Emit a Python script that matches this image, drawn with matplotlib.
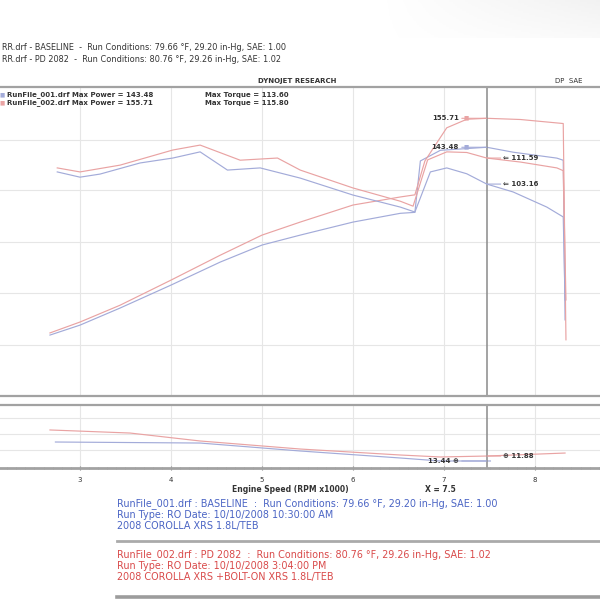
import matplotlib
matplotlib.use("Agg")
import matplotlib.pyplot as plt
import numpy as np
from matplotlib.lines import Line2D

# ---------------- data ----------------
rpm_base_power = [2.67, 3.00, 3.44, 4.00, 4.54, 5.00, 5.42, 6.00, 6.52, 6.68, 6.74, 6.96, 7.47, 7.76, 8.24, 8.31, 8.33]
hp_base = [64.2, 68.4, 75.6, 85.3, 95.0, 102.2, 106.4, 111.9, 115.6, 116.0, 137.7, 142.2, 143.48, 141.4, 138.9, 138.0, 70.6]

rpm_mod_power = [2.67, 3.00, 3.44, 4.00, 4.54, 5.00, 5.42, 6.00, 6.52, 6.68, 6.79, 7.03, 7.25, 7.47, 7.84, 8.31, 8.34]
hp_mod = [65.1, 69.7, 76.8, 87.4, 97.9, 106.4, 111.9, 119.1, 122.5, 123.4, 137.7, 151.7, 155.3, 155.71, 155.2, 153.5, 62.2]

rpm_base_torque = [2.75, 3.00, 3.22, 3.66, 4.02, 4.32, 4.62, 4.98, 5.42, 6.00, 6.52, 6.68, 6.85, 7.03, 7.25, 7.47, 7.76, 8.13, 8.31, 8.33]
tq_base = [107.1, 105.4, 106.4, 110.0, 111.6, 113.6, 107.7, 108.4, 105.1, 99.6, 95.7, 94.1, 107.1, 108.4, 106.5, 103.16, 100.6, 95.7, 92.5, 65.6]

rpm_mod_torque = [2.75, 3.00, 3.44, 4.02, 4.32, 4.76, 5.17, 5.42, 6.00, 6.52, 6.66, 6.82, 7.03, 7.25, 7.47, 7.84, 8.24, 8.31, 8.34]
tq_mod = [108.4, 107.1, 109.3, 114.2, 115.8, 110.9, 111.6, 107.7, 101.9, 97.6, 96.0, 111.0, 113.6, 113.4, 111.59, 110.3, 108.4, 107.5, 65.6]

rpm_afr_mod = [2.67, 3.55, 4.32, 5.42, 6.52, 6.96, 7.47, 8.33]
afr_mod = [14.83, 14.44, 13.43, 12.41, 11.65, 11.40, 11.52, 11.90]
rpm_afr_base = [2.73, 4.32, 5.42, 6.52, 6.96, 7.47, 7.51]
afr_base = [13.30, 13.17, 12.16, 11.27, 10.89, 10.89, 10.89]

cursor_rpm = 7.47
cursor_labels = {"hp_mod": 155.71, "hp_base": 143.48, "tq_mod": 111.59, "tq_base": 103.16,
                 "afr_base": 13.44, "afr_mod": 11.88}

rpm_ticks = [3, 4, 5, 6, 7, 8]

header_lines = ["RR.drf - BASELINE  -  Run Conditions: 79.66 \u00b0F, 29.20 in-Hg, SAE: 1.00",
                "RR.drf - PD 2082  -  Run Conditions: 80.76 \u00b0F, 29.26 in-Hg, SAE: 1.02"]
blue_lines = ["RunFile_001.drf : BASELINE  :  Run Conditions: 79.66 \u00b0F, 29.20 in-Hg, SAE: 1.00",
              "Run Type: RO Date: 10/10/2008 10:30:00 AM",
              "2008 COROLLA XRS 1.8L/TEB"]
red_lines = ["RunFile_002.drf : PD 2082  :  Run Conditions: 80.76 \u00b0F, 29.26 in-Hg, SAE: 1.02",
             "Run Type: RO Date: 10/10/2008 3:04:00 PM",
             "2008 COROLLA XRS +BOLT-ON XRS 1.8L/TEB"]

# ---------------- style ----------------
C_BASE = "#a3abd9"
C_MOD = "#e9a3a3"
GRID = "#e6e6e6"
BORDER = "#a2a2a2"
FS = 5

fig = plt.figure(figsize=(6, 6), dpi=100)
fig.patch.set_facecolor("white")


def fy(y):
    return 1 - y / 600.0


def fx(x):
    return x / 600.0


X0, X1 = 2.121, 8.714

# faint grey shading at the top right corner (scan artefact)
axg = fig.add_axes([fx(380), fy(38), fx(220), 38 / 600.0])
grad = np.linspace(0, 1, 200)[None, :] * np.linspace(1, 0.4, 20)[:, None]
axg.imshow(grad, cmap="Greys", vmin=0, vmax=9, aspect="auto")
axg.axis("off")

# ---------------- main axes ----------------
ax = fig.add_axes([0, fy(395), 1, (395 - 88) / 600.0])
ax.set_xlim(X0, X1)
ax.set_ylim(38.9, 168.5)
axt = ax.twinx()
axt.set_ylim(34.8, 134.3)
for a in (ax, axt):
    for s in a.spines.values():
        s.set_visible(False)
    a.tick_params(length=0, labelbottom=False, labelleft=False, labelright=False)
axt.set_yticks([])
ax.set_xticks(rpm_ticks)
ax.set_yticks([60.0, 82.0, 103.6, 125.5, 146.6])
ax.grid(True, color=GRID, lw=0.8)
ax.set_axisbelow(True)

ax.plot(rpm_base_power, hp_base, color=C_BASE, lw=0.85)
ax.plot(rpm_mod_power, hp_mod, color=C_MOD, lw=0.85)
axt.plot(rpm_base_torque, tq_base, color=C_BASE, lw=0.85)
axt.plot(rpm_mod_torque, tq_mod, color=C_MOD, lw=0.85)
ax.axvline(cursor_rpm, color="#8a8a8a", lw=1.1)

# cursor value labels
for key, color, a in [("hp_mod", C_MOD, ax), ("hp_base", C_BASE, ax)]:
    v = cursor_labels[key]
    a.annotate(f"{v:.2f}", xy=(cursor_rpm, v), xytext=(-20, 0), textcoords="offset points",
               ha="right", va="center", fontsize=FS, weight="bold", color="#333333",
               arrowprops=dict(arrowstyle="-", color=color, lw=0.8, shrinkA=0, shrinkB=0))
    a.annotate("\u25a0", xy=(cursor_rpm, v), xytext=(-15, 0), textcoords="offset points",
               ha="center", va="center", fontsize=4, color=color)
for key, color in [("tq_mod", C_MOD), ("tq_base", C_BASE)]:
    v = cursor_labels[key]
    axt.annotate(f"\u21d0 {v:.2f}", xy=(cursor_rpm, v), xytext=(12, 0), textcoords="offset points",
                 ha="left", va="center", fontsize=FS, weight="bold", color="#333333",
                 arrowprops=dict(arrowstyle="-", color=color, lw=0.8, shrinkA=0, shrinkB=0))

# legend text inside main
leg = [("RunFile_001.drf", max(hp_base), max(tq_base), C_BASE, 95),
       ("RunFile_002.drf", max(hp_mod), max(tq_mod), C_MOD, 103)]
for name, p, t, c, y in leg:
    fig.text(fx(0), fy(y), "\u25a0", color=c, fontsize=4, va="center", ha="left")
    fig.text(fx(7), fy(y), f"{name} Max Power = {p:.2f}", fontsize=FS, va="center", ha="left",
             color="#333333", weight="bold")
    fig.text(fx(205), fy(y), f"Max Torque = {t:.2f}", fontsize=FS, va="center", ha="left",
             color="#333333", weight="bold")

# ---------------- sub axes (AFR) ----------------
axs = fig.add_axes([0, fy(468), 1, (468 - 405) / 600.0])
axs.set_xlim(X0, X1)
axs.set_ylim(10, 18)
for k in ("top", "left", "right"):
    axs.spines[k].set_visible(False)
axs.spines["bottom"].set_color(BORDER)
axs.spines["bottom"].set_linewidth(2)
axs.set_xticks(rpm_ticks)
axs.set_xticks([r / 10 for r in range(22, 88)], minor=True)
axs.set_yticks([12.3, 14.3, 16.3])
axs.tick_params(axis="y", length=0, labelleft=False)
axs.tick_params(axis="x", which="major", length=3, color="#888888", labelsize=FS, pad=5,
                direction="inout", labelcolor="#333333")
axs.tick_params(axis="x", which="minor", length=2, color="#999999", direction="inout")
axs.grid(True, axis="y", color=GRID, lw=0.8)
axs.grid(True, axis="x", which="major", color=GRID, lw=0.8)
axs.set_axisbelow(True)
axs.plot(rpm_afr_mod, afr_mod, color=C_MOD, lw=0.85)
axs.plot(rpm_afr_base, afr_base, color=C_BASE, lw=0.85)
axs.axvline(cursor_rpm, color="#8a8a8a", lw=1.1)

axs.annotate(f"{cursor_labels['afr_base']:.2f} \u2295", xy=(cursor_rpm, afr_base[-2]), xytext=(-20, 0),
             textcoords="offset points", ha="right", va="center", fontsize=FS, weight="bold",
             color="#333333", arrowprops=dict(arrowstyle="-", color=C_BASE, lw=0.8, shrinkA=0, shrinkB=0))
axs.annotate(f"\u2295 {cursor_labels['afr_mod']:.2f}", xy=(cursor_rpm, afr_mod[-2]), xytext=(12, 0),
             textcoords="offset points", ha="left", va="center", fontsize=FS, weight="bold",
             color="#333333", arrowprops=dict(arrowstyle="-", color=C_MOD, lw=0.8, shrinkA=0, shrinkB=0))

# ---------------- borders ----------------
def hline(y, x0=0, x1=600, lw=1.5, color=BORDER):
    fig.add_artist(Line2D([fx(x0), fx(x1)], [fy(y), fy(y)], color=color, lw=lw,
                          transform=fig.transFigure))

hline(87, lw=1.6)
hline(396, lw=1.6)
hline(404.5, lw=1.6)
hline(541, 117, 600, lw=2.0, color="#aaaaaa")
hline(597, 117, 600, lw=2.6, color="#9c9c9c")

# ---------------- texts ----------------
fig.text(fx(2), fy(47), header_lines[0], fontsize=5.9, va="center", ha="left", color="#333333")
fig.text(fx(2), fy(60), header_lines[1], fontsize=5.9, va="center", ha="left", color="#333333")
fig.text(fx(258), fy(81), "DYNOJET RESEARCH", fontsize=FS, va="center", ha="left",
         color="#333333", weight="bold")
fig.text(fx(555), fy(81), "DP  SAE", fontsize=FS, va="center", ha="left", color="#333333")

fig.text(fx(290), fy(490), "Engine Speed (RPM x1000)", fontsize=5.5, va="center", ha="center",
         color="#333333", weight="bold")
fig.text(fx(425), fy(490), f"X = {cursor_rpm:.1f}", fontsize=5.5, va="center", ha="left",
         color="#333333", weight="bold")

for i, s in enumerate(blue_lines):
    fig.text(fx(117), fy(504 + 11 * i), s, fontsize=6.9, va="center", ha="left", color="#4a64c4")
for i, s in enumerate(red_lines):
    fig.text(fx(117), fy(555 + 11 * i), s, fontsize=6.9, va="center", ha="left", color="#d94a4a")

fig.savefig("out.png", dpi=100, facecolor="white")
